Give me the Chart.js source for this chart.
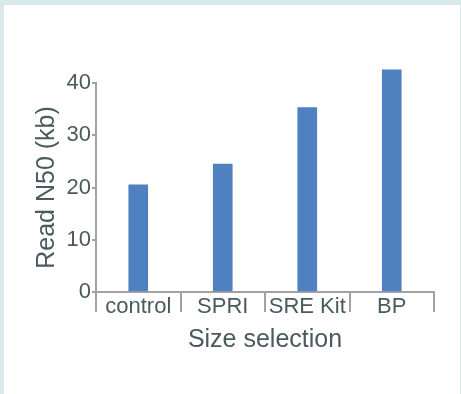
<!DOCTYPE html>
<html>
<head>
<meta charset="utf-8">
<script src="https://cdn.jsdelivr.net/npm/chart.js@4/dist/chart.umd.min.js"></script>
<style>
  html, body { margin: 0; padding: 0; }
  body { background: #d7e9e9; width: 461px; height: 394px; position: relative; overflow: hidden; }
  #panel { position: absolute; left: 4px; top: 5px; width: 456px; height: 389px; background: #fff; }
</style>
</head>
<body>
<div id="panel"><canvas id="n50Chart" width="456" height="389"></canvas></div>
<script>
const categories = ['control', 'SPRI', 'SRE Kit', 'BP'];
const readN50 = [20.5, 24.5, 35.3, 42.5];
const yTicks = [0, 10, 20, 30, 40];

const textColor = '#4a5a5d';
const axisColor = '#a2a2a2';

document.addEventListener('DOMContentLoaded', () => {
  const ctx = document.getElementById('n50Chart').getContext('2d');

  new Chart(ctx, {
    type: 'bar',
    data: {
      labels: categories,
      datasets: [{
        label: 'Read N50 (kb)',
        data: readN50,
        backgroundColor: '#4f80bf',
        barThickness: 19,
        clip: false
      }]
    },
    options: {
      responsive: false,
      animation: false,
      layout: {
        padding: { top: 78, right: 26, bottom: 0, left: 0 }
      },
      plugins: {
        legend: { display: false },
        tooltip: { enabled: false }
      },
      scales: {
        x: {
          grid: {
            offset: true,
            drawOnChartArea: false,
            tickLength: 20,
            color: axisColor,
            lineWidth: 2
          },
          border: { color: axisColor, width: 2 },
          ticks: {
            color: textColor,
            padding: -18,
            maxRotation: 0,
            font: { family: 'Liberation Sans, Arial, sans-serif', size: 22 }
          },
          title: {
            display: true,
            text: 'Size selection',
            color: textColor,
            padding: { top: 0, bottom: 39 },
            font: { family: 'Liberation Sans, Arial, sans-serif', size: 25 }
          },
          afterFit: (scale) => { scale.height = 102; }
        },
        y: {
          min: 0,
          max: 40,
          afterBuildTicks: (scale) => { scale.ticks = yTicks.map(v => ({ value: v })); },
          grid: {
            drawOnChartArea: false,
            tickLength: 4,
            color: axisColor,
            lineWidth: 2
          },
          border: { color: axisColor, width: 2 },
          ticks: {
            color: textColor,
            padding: 1,
            font: { family: 'Liberation Sans, Arial, sans-serif', size: 22 }
          },
          title: {
            display: true,
            text: 'Read N50 (kb)',
            color: textColor,
            padding: { top: 28, bottom: 0 },
            font: { family: 'Liberation Sans, Arial, sans-serif', size: 25 }
          },
          afterFit: (scale) => { scale.width = 92; }
        }
      }
    }
  });
});
</script>
</body>
</html>
